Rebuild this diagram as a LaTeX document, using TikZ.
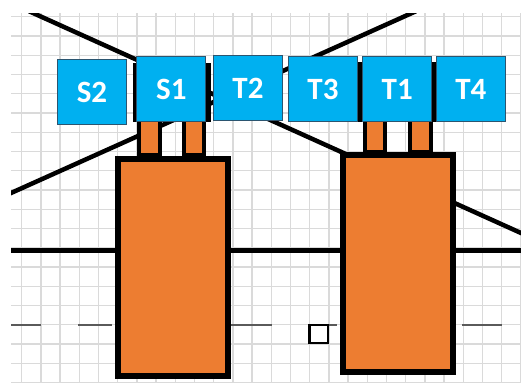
\documentclass[tikz,border=0pt]{standalone}
\usepackage{fontspec}
\setmainfont{Carlito}
\definecolor{tileblue}{HTML}{00B0F0}
\definecolor{tileedge}{HTML}{2B5570}
\definecolor{bodyorange}{HTML}{ED7D31}
\definecolor{gridgray}{HTML}{DADADA}
\definecolor{wiregray}{HTML}{5A5A5A}
\tikzset{
  tile/.style={draw=tileedge, line width=1pt, fill=tileblue, text=white,
    minimum width=69.3pt, minimum height=65.5pt, inner sep=0pt,
    font=\fontsize{31}{31}\selectfont\bfseries},
  wire/.style={line width=4.5pt},
  thinwire/.style={draw=wiregray, line width=1.2pt},
  body/.style={draw=black, fill=bodyorange, line width=6.2pt},
  leg/.style={draw=black, fill=bodyorange, line width=3.8pt},
}
\begin{document}
\begin{tikzpicture}[x=1pt,y=-1pt]
  \useasboundingbox (0,0) rectangle (521,383);
  \fill[white] (0,0) rectangle (521,383);

  \begin{scope}
    \clip (11,13) rectangle (521,383);
    % background grid
    \foreach \k in {0,...,26}
      \draw[gridgray, line width=1.3pt] (21.7+19.2*\k,13) -- (21.7+19.2*\k,383);
    \foreach \k in {0,...,19}
      \draw[gridgray, line width=1.3pt] (11,16.7+19.25*\k) -- (521,16.7+19.25*\k);

    % line end points, slightly past the grid edge
    \coordinate (a1) at (29,11.2);
    \coordinate (a2) at (525,234.8);
    \coordinate (b1) at (7,194.8);
    \coordinate (b2) at (416,11.2);
    \coordinate (h1) at (11,250);
    \coordinate (h2) at (521,250);

    \draw[wire] (a1) -- (a2);
    \draw[wire] (b1) -- (b2);
    \draw[wire, line width=5pt] (h1) -- (h2);
  \end{scope}

  % thin gray segments
  \coordinate (g1) at (11,325);   \coordinate (g2) at (40.7,325);
  \coordinate (g3) at (78,325);   \coordinate (g4) at (112,325);
  \coordinate (g5) at (227,325);  \coordinate (g6) at (272,325);
  \coordinate (g7) at (329,325);  \coordinate (g8) at (337,325);
  \coordinate (g9) at (462,325);  \coordinate (g10) at (502,325);
  \draw[thinwire] (g1) -- (g2);
  \draw[thinwire] (g3) -- (g4);
  \draw[thinwire] (g5) -- (g6);
  \draw[thinwire] (g7) -- (g8);
  \draw[thinwire] (g9) -- (g10);

  % black backing behind the top tiles
  \fill[black] (133.3,63) rectangle (211,122);
  \fill[black] (358.3,62) rectangle (436.7,122);

  % legs
  \draw[leg] (138.6,120) rectangle (159.8,155);
  \draw[leg] (183.6,120) rectangle (204.1,155);
  \draw[leg] (364.6,120) rectangle (384.8,152);
  \draw[leg] (410.2,120) rectangle (430.8,152);

  % main bodies
  \node[body, inner sep=0pt, minimum width=109.8pt, minimum height=217pt,
        anchor=north west] (leftbody) at (114.8,155.8) {};
  \node[body, inner sep=0pt, minimum width=110.4pt, minimum height=217.1pt,
        anchor=north west] (rightbody) at (339.8,152.1) {};

  % tiles
  \node[tile] (S2) at (92,92) {S2};
  \node[tile] (S1) at (171.3,89.2) {S1};
  \node[tile] (T2) at (248,87.9) {T2};
  \node[tile] (T3) at (323,89.2) {T3};
  \node[tile] (T1) at (397.2,89.2) {T1};
  \node[tile] (T4) at (470.9,89.2) {T4};

  % small square
  \node[draw=black, fill=white, line width=2.5pt, minimum width=18.5pt,
        minimum height=18pt, inner sep=0pt] (sq) at (318.6,334.2) {};
\end{tikzpicture}
\end{document}
